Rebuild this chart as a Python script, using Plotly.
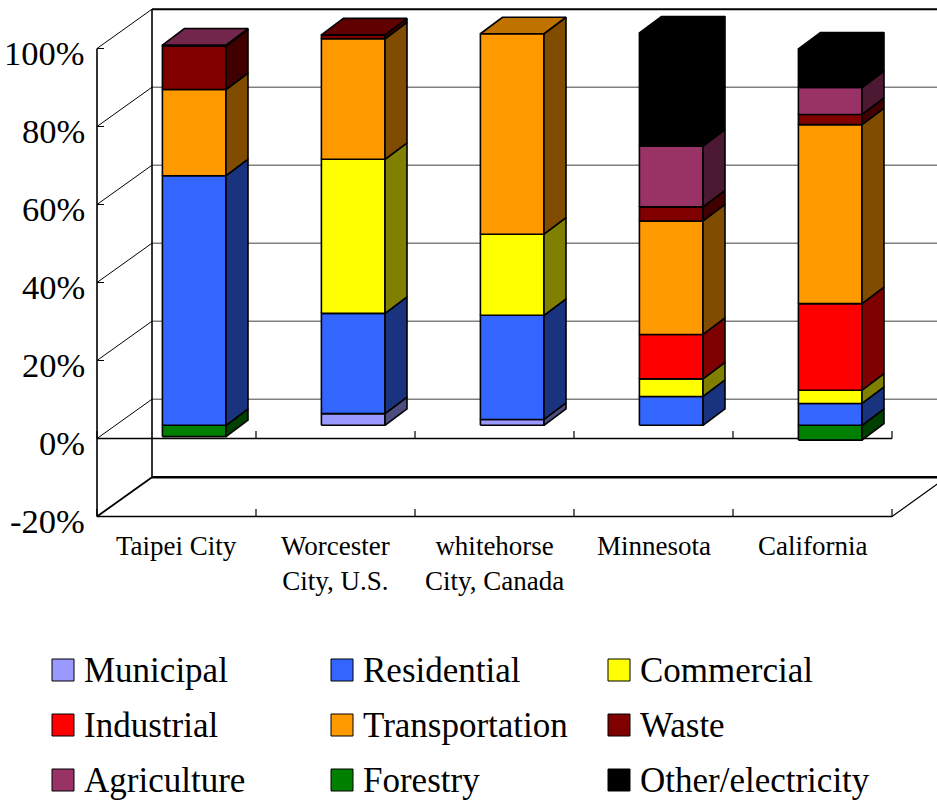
import plotly.graph_objects as go

# ---------------------------------------------------------------- data (%)
categories = ["Taipei City", "Worcester<br>City, U.S.", "whitehorse<br>City, Canada",
              "Minnesota", "California"]
sectors = ["Municipal", "Residential", "Commercial", "Industrial", "Transportation",
           "Waste", "Agriculture", "Forestry", "Other/electricity"]

municipal      = [0.0, 3.0, 1.5, 0.0, 0.0]
residential    = [64.0, 25.7, 26.7, 7.4, 5.6]
commercial     = [0.0, 39.5, 20.8, 4.5, 3.4]
industrial     = [0.0, 0.0, 0.0, 11.4, 22.2]
transportation = [22.1, 30.9, 51.4, 29.1, 45.9]
waste          = [11.1, 1.0, 0.0, 3.6, 2.6]
agriculture    = [0.3, 0.0, 0.0, 15.6, 6.9]
forestry       = [-2.9, 0.0, 0.0, 0.0, -3.8]
other          = [0.0, 0.0, 0.0, 29.0, 9.9]

y_ticks = [-20, 0, 20, 40, 60, 80, 100]
y_tick_labels = ["-20%", "0%", "20%", "40%", "60%", "80%", "100%"]

series = [municipal, residential, commercial, industrial, transportation,
          waste, agriculture, forestry, other]
front_colors = ["#9999FF", "#3366FF", "#FFFF00", "#FF0000", "#FF9900",
                "#800000", "#993366", "#008000", "#000000"]


def shade(hex_color, k):
    h = hex_color.lstrip("#")
    r, g, b = (int(h[i:i + 2], 16) for i in (0, 2, 4))
    return "#%02x%02x%02x" % (int(r * k), int(g * k), int(b * k))


# ------------------------------------------------------- 3-D projection
W, H = 937, 802
PX_CAT, PX_PCT = 159.0, 3.9          # pixels per category / per percent
X_LEFT_PX, Y_ZERO_PX = 97.0, 438.5   # front plane: left edge, 0% level
XR = [(0 - X_LEFT_PX) / PX_CAT - 0.5, (W - X_LEFT_PX) / PX_CAT - 0.5]
YR = [(Y_ZERO_PX - H) / PX_PCT, Y_ZERO_PX / PX_PCT]

WALL_DX, WALL_DY = 55 / PX_CAT, 39.3 / PX_PCT      # depth of back wall
BAR_DX, BAR_DY = 17.7 / PX_CAT, 13.2 / PX_PCT      # bar front plane offset
DEP_DX, DEP_DY = 22 / PX_CAT, 16.5 / PX_PCT        # bar depth
HALF_W = 0.2
Y_MIN, Y_MAX = -20, 100
N = len(categories)
x_lo, x_hi = -0.5, N - 0.5

fig = go.Figure()


def line(xs, ys, color="#000000", width=1.2):
    fig.add_trace(go.Scatter(x=xs, y=ys, mode="lines", hoverinfo="skip",
                             line=dict(color=color, width=width), showlegend=False))


def poly(xs, ys, fill, edge="#000000", width=1.6):
    fig.add_trace(go.Scatter(x=xs + [xs[0]], y=ys + [ys[0]], mode="lines",
                             fill="toself", fillcolor=fill, hoverinfo="skip",
                             line=dict(color=edge, width=width), showlegend=False))


# back wall gridlines
for v in y_ticks:
    yb = v + WALL_DY
    if v == Y_MIN:
        line([x_lo + WALL_DX, x_hi + WALL_DX + 1], [yb, yb], "#000000", 2.4)
    elif v == Y_MAX:
        line([x_lo + WALL_DX, x_hi + WALL_DX + 1], [yb, yb], "#000000", 2)
    else:
        line([x_lo + WALL_DX, x_hi + WALL_DX + 1], [yb, yb], "#808080", 1.6)
    # side wall diagonals
    line([x_lo, x_lo + WALL_DX], [v, yb], "#000000", 1.8 if v == Y_MIN else 1)
    # tick stubs on the value axis
    line([x_lo, x_lo + 7 / PX_CAT], [v, v], "#000000", 1)

line([x_lo + WALL_DX, x_lo + WALL_DX], [Y_MIN + WALL_DY, Y_MAX + WALL_DY], "#000000", 1.6)
line([x_lo, x_lo], [Y_MIN, Y_MAX], "#000000", 1.6)

# category axis at 0% and floor front edge at -20%
for base in (0, Y_MIN):
    line([x_lo, x_hi], [base, base], "#000000", 1.6)
    for k in range(N + 1):
        line([x_lo + k, x_lo + k], [base, base + 7.5 / PX_PCT], "#000000", 1.2)
line([x_hi, x_hi + WALL_DX], [Y_MIN, Y_MIN + WALL_DY], "#000000", 1.2)

# stacked 3-D columns
for i in range(N):
    fx0 = i + BAR_DX - HALF_W
    fx1 = i + BAR_DX + HALF_W
    pos, neg = 0.0, 0.0
    segs = []
    for s, vals in enumerate(series):
        v = vals[i]
        if v > 0:
            segs.append((pos, pos + v, s))
            pos += v
        elif v < 0:
            segs.append((neg + v, neg, s))
            neg += v
    segs.sort(key=lambda t: t[0])
    for j, (y0, y1, s) in enumerate(segs):
        c = front_colors[s]
        a, b = y0 + BAR_DY, y1 + BAR_DY
        poly([fx0, fx1, fx1, fx0], [a, a, b, b], c)
        poly([fx1, fx1 + DEP_DX, fx1 + DEP_DX, fx1],
             [a, a + DEP_DY, b + DEP_DY, b], shade(c, 0.5))
        if j == len(segs) - 1:
            poly([fx0, fx1, fx1 + DEP_DX, fx0 + DEP_DX],
                 [b, b, b + DEP_DY, b + DEP_DY], shade(c, 0.75))

# ----------------------------------------------------------------- text
SERIF = "Liberation Serif, Times New Roman, serif"
ann = []
for v, t in zip(y_ticks, y_tick_labels):
    ann.append(dict(x=(87 - X_LEFT_PX) / PX_CAT - 0.5, y=v - 4 / PX_PCT, text=t,
                    xanchor="right", yanchor="middle", showarrow=False,
                    font=dict(family=SERIF, size=34.5, color="#000000")))
for i, c in enumerate(categories):
    ann.append(dict(x=i, y=Y_MIN - 12 / PX_PCT, text=c, xanchor="center", yanchor="top",
                    showarrow=False, align="center",
                    font=dict(family=SERIF, size=27, color="#000000")))

# legend: 3 x 3 grid
shapes = []
col_x = [52, 331, 608]
row_y = [670, 725, 780]
for k, name in enumerate(sectors):
    r, cidx = divmod(k, 3)
    sx, sy = col_x[cidx], row_y[r]
    shapes.append(dict(type="rect", xref="paper", yref="paper",
                       x0=sx / W, x1=(sx + 22) / W,
                       y0=1 - (sy + 11) / H, y1=1 - (sy - 11) / H,
                       fillcolor=front_colors[k], line=dict(color="#000000", width=1)))
    ann.append(dict(x=(sx + 30) / W, y=1 - sy / H, xref="paper", yref="paper",
                    text=name, xanchor="left", yanchor="middle", showarrow=False,
                    font=dict(family=SERIF, size=35, color="#000000")))

fig.update_layout(
    width=W, height=H, autosize=False,
    margin=dict(l=0, r=0, t=0, b=0),
    paper_bgcolor="#FFFFFF", plot_bgcolor="#FFFFFF",
    xaxis=dict(range=XR, visible=False, fixedrange=True),
    yaxis=dict(range=YR, visible=False, fixedrange=True),
    showlegend=False, annotations=ann, shapes=shapes,
)

fig.write_html("out.html")
